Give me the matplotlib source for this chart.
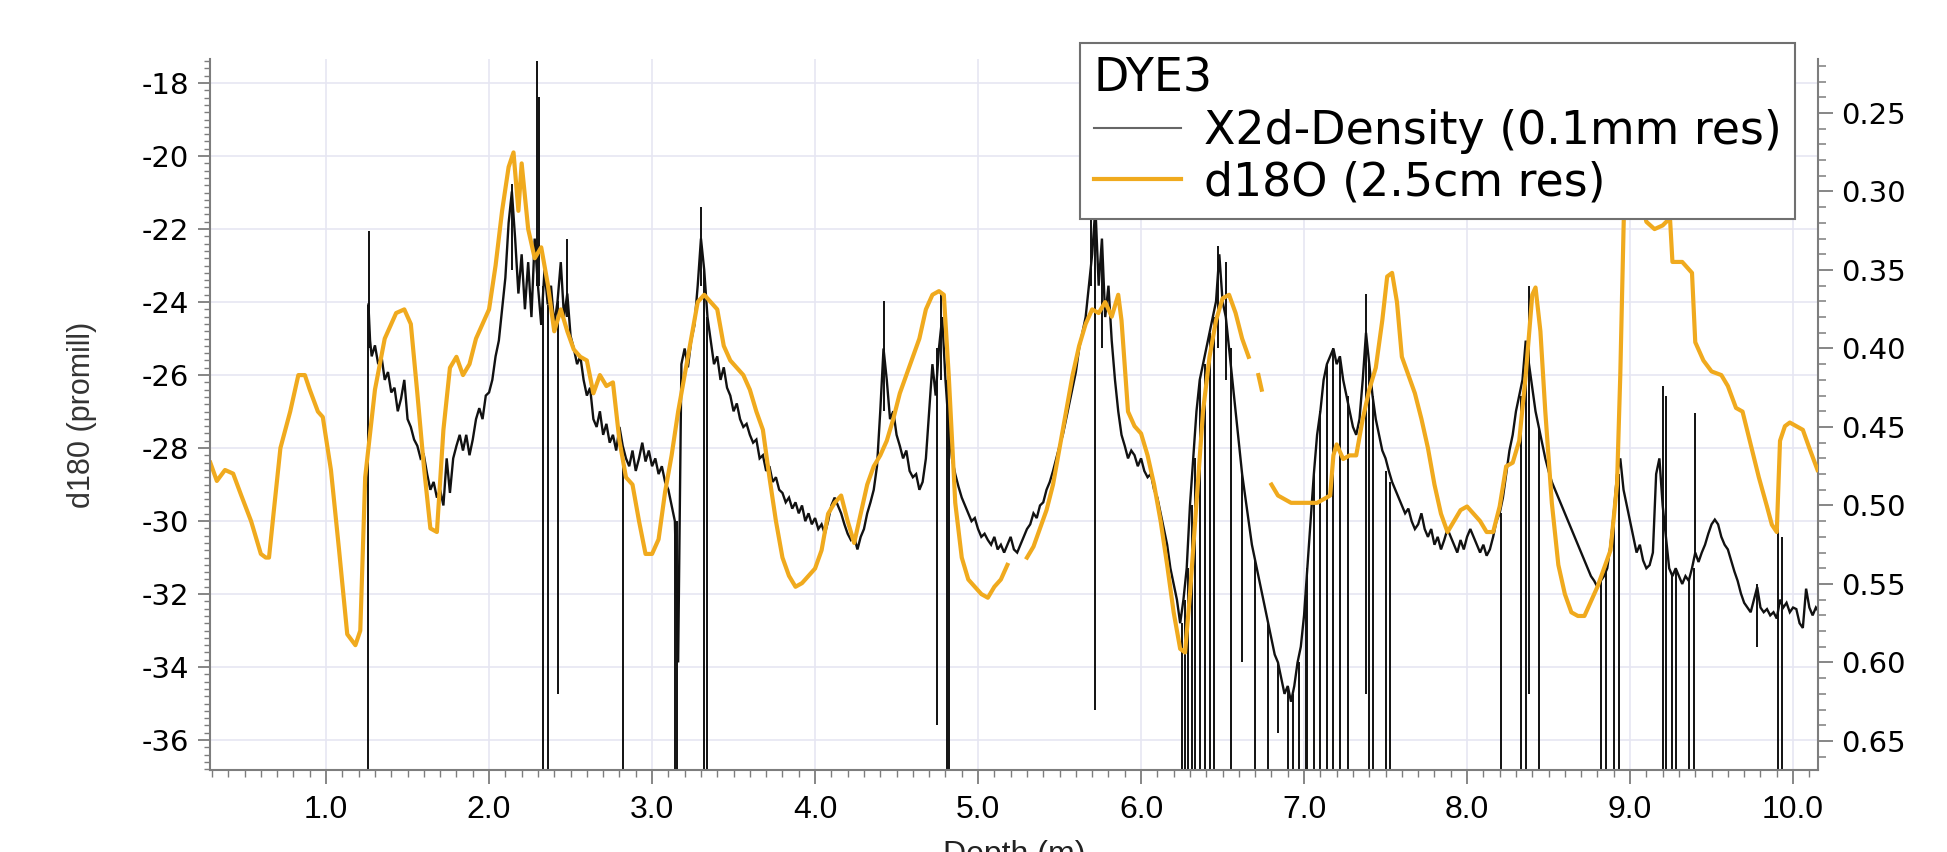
import numpy as np
import matplotlib
matplotlib.use("Agg")
import matplotlib.pyplot as plt
from matplotlib.ticker import MultipleLocator, FormatStrFormatter
from matplotlib.lines import Line2D

plt.rcParams['axes.unicode_minus'] = False

# ---------------- data ----------------
# d18O, 2.5 cm resolution (left axis, promill); NaN = gap in the line
d18o_depth = [0.29, 0.33, 0.38, 0.43, 0.48, 0.54, 0.60, 0.63, 0.65, 0.68, 0.72, 0.78, 0.83, 0.87,
              0.90, 0.95, 0.98, 1.03, 1.08, 1.13, 1.18, 1.21, 1.24, 1.30, 1.36, 1.43, 1.48, 1.52,
              1.56, 1.60, 1.64, 1.68, 1.72, 1.76, 1.80, 1.84, 1.88, 1.92, 1.96, 2.00, 2.04, 2.08,
              2.12, 2.15, 2.18, 2.20, 2.24, 2.28, 2.32, 2.36, 2.40, 2.44, 2.48, 2.52, 2.56, 2.60,
              2.64, 2.68, 2.72, 2.76, 2.80, 2.84, 2.88, 2.92, 2.96, 3.00, 3.04, 3.08, 3.12, 3.16,
              3.20, 3.24, 3.28, 3.32, 3.36, 3.40, 3.44, 3.48, 3.52, 3.56, 3.60, 3.64, 3.68, 3.72,
              3.76, 3.80, 3.84, 3.88, 3.92, 3.96, 4.00, 4.04, 4.08, 4.12, 4.16, 4.20, 4.24, 4.28,
              4.32, 4.36, 4.40, 4.44, 4.48, 4.52, 4.56, 4.60, 4.64, 4.68, 4.72, 4.76, 4.79, 4.82,
              4.86, 4.90, 4.94, 4.98, 5.02, 5.06, 5.10, 5.14, 5.18, 5.24, 5.30, 5.34, 5.38, 5.42,
              5.46, 5.50, 5.54, 5.58, 5.62, 5.66, 5.70, 5.74, 5.78, 5.82, 5.86, 5.88, 5.92, 5.96,
              6.00, 6.04, 6.08, 6.12, 6.16, 6.20, 6.24, 6.27, 6.30, 6.34, 6.38, 6.42, 6.46, 6.50,
              6.54, 6.58, 6.62, 6.66, 6.69, 6.72, 6.74, 6.76, 6.80, 6.84, 6.88, 6.92, 6.96, 7.00,
              7.04, 7.08, 7.12, 7.16, 7.18, 7.20, 7.24, 7.28, 7.32, 7.36, 7.40, 7.44, 7.48, 7.51,
              7.54, 7.57, 7.60, 7.64, 7.68, 7.72, 7.76, 7.80, 7.84, 7.88, 7.92, 7.96, 8.00, 8.04,
              8.08, 8.12, 8.16, 8.20, 8.24, 8.28, 8.32, 8.36, 8.40, 8.42, 8.45, 8.48, 8.52, 8.56,
              8.60, 8.64, 8.68, 8.72, 8.76, 8.80, 8.84, 8.88, 8.92, 8.94, 8.96, 8.98, 9.00, 9.04,
              9.06, 9.10, 9.15, 9.20, 9.245, 9.26, 9.32, 9.38, 9.40, 9.45, 9.50, 9.56, 9.60, 9.65,
              9.69, 9.74, 9.79, 9.84, 9.87, 9.90, 9.92, 9.95, 9.98, 10.02, 10.06, 10.10, 10.15]
d18o_value = [-28.4, -28.9, -28.6, -28.7, -29.3, -30.0, -30.9, -31.0, -31.0, -29.7, -28.0, -27.0, -26.0, -26.0,
              -26.4, -27.0, -27.15, -28.6, -30.8, -33.1, -33.4, -33.0, -28.8, -26.4, -25.0, -24.3, -24.2, -24.6,
              -26.5, -28.5, -30.2, -30.3, -27.5, -25.8, -25.5, -26.0, -25.7, -25.0, -24.6, -24.2, -23.0, -21.5,
              -20.3, -19.9, -21.5, -20.2, -22.0, -22.8, -22.5, -23.5, -24.8, -24.2, -24.8, -25.3, -25.5, -25.6,
              -26.5, -26.0, -26.3, -26.2, -27.8, -28.8, -29.0, -30.0, -30.9, -30.9, -30.5, -29.2, -28.2, -27.0,
              -26.0, -25.0, -24.0, -23.8, -24.0, -24.2, -25.2, -25.6, -25.8, -26.0, -26.4, -27.0, -27.5, -28.8,
              -30.0, -31.0, -31.5, -31.8, -31.7, -31.5, -31.3, -30.8, -29.8, -29.5, -29.3, -30.0, -30.6, -29.8,
              -29.0, -28.5, -28.2, -27.8, -27.2, -26.5, -26.0, -25.5, -25.0, -24.2, -23.8, -23.7, -23.8, -26.0,
              -29.5, -31.0, -31.6, -31.8, -32.0, -32.1, -31.8, -31.6, -31.2, np.nan, -31.0, -30.7, -30.2, -29.7,
              -29.0, -28.0, -27.0, -26.0, -25.2, -24.6, -24.2, -24.3, -24.0, -24.4, -23.8, -24.5, -27.0, -27.4,
              -27.6, -28.2, -29.0, -30.0, -31.2, -32.5, -33.5, -33.6, -32.0, -29.5, -27.0, -25.5, -24.5, -23.9,
              -23.8, -24.3, -25.0, -25.5, np.nan, -26.0, -26.4, np.nan, -29.0, -29.3, -29.4, -29.5, -29.5, -29.5,
              -29.5, -29.5, -29.4, -29.3, -28.2, -27.9, -28.3, -28.2, -28.2, -27.2, -26.4, -25.8, -24.5, -23.3,
              -23.2, -24.0, -25.5, -26.0, -26.5, -27.2, -28.0, -29.0, -29.8, -30.3, -30.0, -29.7, -29.6, -29.8,
              -30.0, -30.3, -30.3, -29.6, -28.5, -28.4, -27.8, -26.0, -23.8, -23.6, -24.8, -27.0, -29.5, -31.2,
              -32.0, -32.5, -32.6, -32.6, -32.2, -31.8, -31.3, -30.8, -29.0, -26.0, -22.0, -18.5, -16.5, -16.5,
              -21.0, -21.8, -22.0, -21.9, -21.7, -22.9, -22.9, -23.2, -25.1, -25.6, -25.9, -26.0, -26.3, -26.9,
              -27.0, -27.9, -28.8, -29.6, -30.1, -30.3, -27.8, -27.4, -27.3, -27.4, -27.5, -28.0, -28.6]

# X2d density, 0.1 mm resolution (right axis) - traced envelope of the trace
dens_depth = [1.26, 1.27, 1.28, 1.30, 1.32, 1.34, 1.36, 1.38, 1.40, 1.42, 1.44, 1.46, 1.48, 1.50,
              1.52, 1.54, 1.56, 1.58, 1.60, 1.62, 1.64, 1.66, 1.68, 1.70, 1.72, 1.74, 1.76, 1.78,
              1.80, 1.82, 1.84, 1.86, 1.88, 1.90, 1.92, 1.94, 1.96, 1.98, 2.00, 2.02, 2.04, 2.06,
              2.08, 2.10, 2.12, 2.14, 2.16, 2.18, 2.20, 2.22, 2.24, 2.26, 2.28, 2.30, 2.32, 2.34,
              2.36, 2.38, 2.40, 2.42, 2.44, 2.46, 2.48, 2.50, 2.52, 2.54, 2.56, 2.58, 2.60, 2.62,
              2.64, 2.66, 2.68, 2.70, 2.72, 2.74, 2.76, 2.78, 2.80, 2.82, 2.84, 2.86, 2.88, 2.90,
              2.92, 2.94, 2.96, 2.98, 3.00, 3.02, 3.04, 3.06, 3.08, 3.10, 3.12, 3.14, 3.16, 3.18,
              3.20, 3.22, 3.24, 3.26, 3.28, 3.30, 3.32, 3.34, 3.36, 3.38, 3.40, 3.42, 3.44, 3.46,
              3.48, 3.50, 3.52, 3.54, 3.56, 3.58, 3.60, 3.62, 3.64, 3.66, 3.68, 3.70, 3.72, 3.74,
              3.76, 3.78, 3.80, 3.82, 3.84, 3.86, 3.88, 3.90, 3.92, 3.94, 3.96, 3.98, 4.00, 4.02,
              4.04, 4.06, 4.08, 4.10, 4.12, 4.14, 4.16, 4.18, 4.20, 4.22, 4.24, 4.26, 4.28, 4.30,
              4.32, 4.34, 4.36, 4.38, 4.40, 4.42, 4.44, 4.46, 4.48, 4.50, 4.52, 4.54, 4.56, 4.58,
              4.60, 4.62, 4.64, 4.66, 4.68, 4.70, 4.72, 4.74, 4.76, 4.78, 4.80, 4.82, 4.84, 4.86,
              4.88, 4.90, 4.92, 4.94, 4.96, 4.98, 5.00, 5.02, 5.04, 5.06, 5.08, 5.10, 5.12, 5.14,
              5.16, 5.18, 5.20, 5.22, 5.24, 5.26, 5.28, 5.30, 5.32, 5.34, 5.36, 5.38, 5.40, 5.42,
              5.44, 5.46, 5.48, 5.50, 5.52, 5.54, 5.56, 5.58, 5.60, 5.62, 5.64, 5.66, 5.68, 5.70,
              5.72, 5.74, 5.76, 5.78, 5.80, 5.82, 5.84, 5.86, 5.88, 5.90, 5.92, 5.94, 5.96, 5.98,
              6.00, 6.02, 6.04, 6.06, 6.08, 6.10, 6.12, 6.14, 6.16, 6.18, 6.20, 6.22, 6.24, 6.26,
              6.28, 6.30, 6.32, 6.34, 6.36, 6.38, 6.40, 6.42, 6.44, 6.46, 6.48, 6.50, 6.52, 6.54,
              6.56, 6.58, 6.60, 6.62, 6.64, 6.66, 6.68, 6.70, 6.72, 6.74, 6.76, 6.78, 6.80, 6.82,
              6.84, 6.86, 6.88, 6.90, 6.92, 6.94, 6.96, 6.98, 7.00, 7.02, 7.04, 7.06, 7.08, 7.10,
              7.12, 7.14, 7.16, 7.18, 7.20, 7.22, 7.24, 7.26, 7.28, 7.30, 7.32, 7.34, 7.36, 7.38,
              7.40, 7.42, 7.44, 7.46, 7.48, 7.50, 7.52, 7.54, 7.56, 7.58, 7.60, 7.62, 7.64, 7.66,
              7.68, 7.70, 7.72, 7.74, 7.76, 7.78, 7.80, 7.82, 7.84, 7.86, 7.88, 7.90, 7.92, 7.94,
              7.96, 7.98, 8.00, 8.02, 8.04, 8.06, 8.08, 8.10, 8.12, 8.14, 8.16, 8.18, 8.20, 8.22,
              8.24, 8.26, 8.28, 8.30, 8.32, 8.34, 8.36, 8.38, 8.40, 8.42, 8.44, 8.46, 8.48, 8.50,
              8.52, 8.54, 8.56, 8.58, 8.60, 8.62, 8.64, 8.66, 8.68, 8.70, 8.72, 8.74, 8.76, 8.78,
              8.80, 8.82, 8.84, 8.86, 8.88, 8.90, 8.92, 8.94, 8.96, 8.98, 9.00, 9.02, 9.04, 9.06,
              9.08, 9.10, 9.12, 9.14, 9.16, 9.18, 9.20, 9.22, 9.24, 9.26, 9.28, 9.30, 9.32, 9.34,
              9.36, 9.38, 9.40, 9.42, 9.44, 9.46, 9.48, 9.50, 9.52, 9.54, 9.56, 9.58, 9.60, 9.62,
              9.64, 9.66, 9.68, 9.70, 9.72, 9.74, 9.76, 9.78, 9.80, 9.82, 9.84, 9.86, 9.88, 9.90,
              9.92, 9.94, 9.96, 9.98, 10.00, 10.02, 10.04, 10.06, 10.08, 10.10, 10.12, 10.14, 10.16]
dens_value = [0.372, 0.395, 0.405, 0.398, 0.410, 0.405, 0.420, 0.415, 0.428, 0.425, 0.440, 0.432, 0.420, 0.445,
              0.450, 0.458, 0.462, 0.470, 0.468, 0.480, 0.490, 0.485, 0.495, 0.490, 0.500, 0.470, 0.492, 0.470,
              0.462, 0.455, 0.465, 0.455, 0.468, 0.458, 0.445, 0.438, 0.445, 0.430, 0.428, 0.420, 0.405, 0.395,
              0.375, 0.355, 0.320, 0.300, 0.330, 0.365, 0.340, 0.375, 0.345, 0.380, 0.330, 0.360, 0.385, 0.350,
              0.372, 0.360, 0.385, 0.370, 0.345, 0.380, 0.365, 0.392, 0.400, 0.410, 0.405, 0.420, 0.430, 0.425,
              0.445, 0.450, 0.440, 0.455, 0.448, 0.460, 0.455, 0.465, 0.450, 0.462, 0.470, 0.475, 0.465, 0.478,
              0.470, 0.460, 0.472, 0.465, 0.475, 0.470, 0.480, 0.475, 0.485, 0.490, 0.500, 0.510, 0.600, 0.410,
              0.400, 0.412, 0.395, 0.385, 0.360, 0.330, 0.350, 0.380, 0.395, 0.410, 0.405, 0.420, 0.412, 0.425,
              0.430, 0.440, 0.435, 0.445, 0.450, 0.448, 0.455, 0.460, 0.458, 0.470, 0.468, 0.478, 0.475, 0.485,
              0.482, 0.490, 0.492, 0.498, 0.495, 0.502, 0.498, 0.505, 0.500, 0.510, 0.505, 0.512, 0.508, 0.515,
              0.512, 0.518, 0.510, 0.500, 0.495, 0.500, 0.505, 0.512, 0.518, 0.522, 0.520, 0.528, 0.520, 0.515,
              0.505, 0.498, 0.490, 0.475, 0.440, 0.400, 0.420, 0.445, 0.440, 0.455, 0.462, 0.470, 0.465, 0.478,
              0.482, 0.480, 0.490, 0.485, 0.470, 0.440, 0.410, 0.430, 0.400, 0.380, 0.420, 0.450, 0.470, 0.480,
              0.488, 0.495, 0.500, 0.505, 0.510, 0.508, 0.515, 0.520, 0.518, 0.522, 0.525, 0.520, 0.528, 0.525,
              0.530, 0.525, 0.520, 0.528, 0.530, 0.525, 0.520, 0.515, 0.512, 0.505, 0.508, 0.500, 0.498, 0.490,
              0.485, 0.478, 0.470, 0.462, 0.455, 0.445, 0.435, 0.425, 0.415, 0.400, 0.390, 0.380, 0.360, 0.340,
              0.310, 0.360, 0.330, 0.380, 0.360, 0.395, 0.420, 0.440, 0.455, 0.462, 0.470, 0.465, 0.468, 0.475,
              0.470, 0.478, 0.482, 0.480, 0.490, 0.495, 0.505, 0.515, 0.525, 0.540, 0.550, 0.560, 0.575, 0.560,
              0.540, 0.500, 0.470, 0.440, 0.420, 0.410, 0.400, 0.390, 0.380, 0.370, 0.340, 0.370, 0.380, 0.400,
              0.420, 0.440, 0.460, 0.480, 0.495, 0.510, 0.525, 0.535, 0.545, 0.555, 0.565, 0.575, 0.585, 0.595,
              0.600, 0.610, 0.620, 0.615, 0.625, 0.615, 0.600, 0.590, 0.570, 0.540, 0.510, 0.480, 0.455, 0.440,
              0.420, 0.410, 0.405, 0.400, 0.410, 0.405, 0.420, 0.430, 0.440, 0.450, 0.455, 0.445, 0.420, 0.390,
              0.410, 0.430, 0.445, 0.455, 0.465, 0.470, 0.478, 0.485, 0.490, 0.495, 0.500, 0.505, 0.502, 0.510,
              0.515, 0.512, 0.505, 0.515, 0.520, 0.515, 0.525, 0.520, 0.528, 0.522, 0.515, 0.520, 0.525, 0.530,
              0.522, 0.528, 0.520, 0.515, 0.520, 0.525, 0.530, 0.525, 0.532, 0.528, 0.520, 0.510, 0.505, 0.495,
              0.480, 0.465, 0.455, 0.440, 0.430, 0.420, 0.395, 0.410, 0.425, 0.440, 0.450, 0.460, 0.470, 0.478,
              0.485, 0.490, 0.495, 0.500, 0.505, 0.510, 0.515, 0.520, 0.525, 0.530, 0.535, 0.540, 0.545, 0.548,
              0.552, 0.548, 0.545, 0.540, 0.525, 0.505, 0.480, 0.470, 0.490, 0.500, 0.510, 0.520, 0.530, 0.525,
              0.535, 0.540, 0.538, 0.530, 0.480, 0.470, 0.500, 0.520, 0.540, 0.545, 0.540, 0.545, 0.550, 0.545,
              0.548, 0.540, 0.530, 0.536, 0.530, 0.525, 0.518, 0.512, 0.509, 0.512, 0.520, 0.525, 0.528, 0.535,
              0.542, 0.548, 0.556, 0.562, 0.565, 0.568, 0.560, 0.552, 0.565, 0.568, 0.566, 0.570, 0.568, 0.572,
              0.560, 0.565, 0.562, 0.568, 0.565, 0.566, 0.575, 0.578, 0.553, 0.565, 0.570, 0.565, 0.568]

# thin spikes of the density trace: depth, upper end, lower end (density units)
spike_depth = [1.258, 1.265, 2.14, 2.295, 2.305, 2.33, 2.36, 2.42, 2.48, 2.82, 3.14, 3.155,
               3.30, 3.32, 3.335, 4.42, 4.75, 4.77, 4.81, 4.82, 5.69, 5.72, 5.76,
               6.25, 6.27, 6.29, 6.31, 6.33, 6.36, 6.39, 6.42, 6.45, 6.47, 6.52, 6.55,
               6.62, 6.70, 6.78, 6.84, 6.90, 6.93, 6.97, 7.01, 7.02, 7.06, 7.10, 7.14,
               7.18, 7.22, 7.27, 7.38, 7.40, 7.42, 7.50, 7.53, 8.21, 8.33, 8.36, 8.38,
               8.44, 8.82, 8.85, 8.90, 8.93, 9.20, 9.22, 9.26, 9.28, 9.36, 9.39, 9.40,
               9.78, 9.91, 9.93]
spike_top = [0.372, 0.325, 0.295, 0.217, 0.240, 0.360, 0.372, 0.370, 0.330, 0.462, 0.510, 0.510,
             0.310, 0.350, 0.380, 0.370, 0.400, 0.365, 0.420, 0.430, 0.300, 0.310, 0.330,
             0.575, 0.560, 0.540, 0.500, 0.470, 0.420, 0.410, 0.390, 0.380, 0.335, 0.345, 0.400,
             0.480, 0.535, 0.575, 0.600, 0.615, 0.620, 0.600, 0.560, 0.540, 0.480, 0.440, 0.410,
             0.400, 0.405, 0.430, 0.365, 0.410, 0.430, 0.478, 0.485, 0.505, 0.430, 0.395, 0.360,
             0.450, 0.548, 0.540, 0.505, 0.480, 0.424, 0.430, 0.545, 0.540, 0.548, 0.540, 0.441,
             0.550, 0.512, 0.520]
spike_bottom = [0.680, 0.400, 0.350, 0.360, 0.360, 0.680, 0.680, 0.620, 0.380, 0.680, 0.680, 0.680,
                0.360, 0.680, 0.680, 0.440, 0.640, 0.420, 0.680, 0.680, 0.360, 0.630, 0.400,
                0.680, 0.680, 0.680, 0.680, 0.680, 0.680, 0.680, 0.680, 0.680, 0.400, 0.420, 0.680,
                0.600, 0.680, 0.680, 0.645, 0.680, 0.680, 0.680, 0.680, 0.680, 0.680, 0.680, 0.680,
                0.680, 0.680, 0.680, 0.620, 0.680, 0.680, 0.680, 0.680, 0.680, 0.680, 0.680, 0.620,
                0.680, 0.680, 0.680, 0.680, 0.680, 0.680, 0.680, 0.680, 0.680, 0.680, 0.680, 0.530,
                0.590, 0.680, 0.680]

x_ticks_major = 1.0
left_ticks_major = 2.0
right_ticks_major = 0.05
legend_title = "DYE3"
label_density = "X2d-Density (0.1mm res)"
label_d18o = "d18O (2.5cm res)"

# ---------------- figure ----------------
W, H = 1947, 852
fig = plt.figure(figsize=(W / 100, H / 100), dpi=100)
rect = [210 / W, 1 - 770 / H, (1818 - 210) / W, (770 - 59) / H]

ORANGE = "#F0AA1E"
GRID = "#E6E6F2"
SPINE = "#7d7d7d"
NARROW = ['Liberation Sans Narrow', 'DejaVu Sans Condensed', 'Liberation Sans', 'DejaVu Sans']

# background axes for the grid
axg = fig.add_axes(rect, zorder=0)
# density axis (right)
ax2 = fig.add_axes(rect, zorder=1, sharex=axg)
# d18O axis (left), on top
ax1 = fig.add_axes(rect, zorder=2, sharex=axg)

xlim = (0.288, 10.153)
ylim_left = (-36.82, -17.34)
ylim_right = (0.6685, 0.2156)

axg.set_xlim(*xlim)
axg.set_ylim(*ylim_left)
axg.xaxis.set_major_locator(MultipleLocator(x_ticks_major))
axg.yaxis.set_major_locator(MultipleLocator(left_ticks_major))
axg.grid(True, color=GRID, lw=1.2)
axg.tick_params(which='both', length=0, labelleft=False, labelbottom=False)
for s in axg.spines.values():
    s.set_visible(False)

# density trace
ax2.patch.set_visible(False)
ax2.plot(dens_depth, dens_value, color="#111111", lw=1.7, solid_joinstyle='miter')
ax2.vlines(spike_depth, spike_top, spike_bottom, color="#111111", lw=1.4)
ax2.set_ylim(*ylim_right)
ax2.yaxis.tick_right()
ax2.yaxis.set_major_locator(MultipleLocator(right_ticks_major))
ax2.yaxis.set_minor_locator(MultipleLocator(0.01))
ax2.yaxis.set_major_formatter(FormatStrFormatter('%.2f'))
ax2.tick_params(axis='y', which='major', direction='out', length=11, width=1.3, color=SPINE,
                labelsize=21, pad=6, right=True, left=False, labelright=True, labelleft=False)
ax2.tick_params(axis='y', which='minor', direction='out', length=5.5, width=1.1, color=SPINE,
                right=True, left=False)
ax2.tick_params(axis='x', which='both', bottom=False, labelbottom=False)
for k in ('top', 'left', 'bottom'):
    ax2.spines[k].set_visible(False)
ax2.spines['right'].set_color(SPINE)
ax2.spines['right'].set_linewidth(1.5)

# d18O trace
ax1.patch.set_visible(False)
ax1.plot(d18o_depth, d18o_value, color=ORANGE, lw=3.0, solid_joinstyle='round')
ax1.set_xlim(*xlim)
ax1.set_ylim(*ylim_left)
ax1.xaxis.set_major_locator(MultipleLocator(x_ticks_major))
ax1.xaxis.set_minor_locator(MultipleLocator(0.1))
ax1.xaxis.set_major_formatter(FormatStrFormatter('%.1f'))
ax1.yaxis.set_major_locator(MultipleLocator(left_ticks_major))
ax1.yaxis.set_minor_locator(MultipleLocator(0.2))
ax1.yaxis.set_major_formatter(FormatStrFormatter('%d'))
ax1.tick_params(axis='y', which='major', direction='out', length=9, width=1.3, color=SPINE,
                labelsize=21, pad=6)
ax1.tick_params(axis='y', which='minor', direction='out', length=4.5, width=1.0, color=SPINE)
ax1.tick_params(axis='x', which='major', direction='out', length=10, width=1.3, color=SPINE,
                labelsize=23, pad=8)
ax1.tick_params(axis='x', which='minor', direction='out', length=5, width=1.0, color=SPINE)
for lab in ax1.get_xticklabels():
    lab.set_family(NARROW)
for k in ('top', 'right'):
    ax1.spines[k].set_visible(False)
for k in ('left', 'bottom'):
    ax1.spines[k].set_color(SPINE)
    ax1.spines[k].set_linewidth(1.5)

ax1.set_ylabel("d180 (promill)", fontsize=22, color="#333333", family=NARROW, labelpad=32)

fig.text((210 + 1818) / 2 / W, 12 / H, "Depth (m)", ha='center', va='top', fontsize=23,
         family=NARROW, color="#222222")

handles = [Line2D([], [], color="#666666", lw=1.5), Line2D([], [], color=ORANGE, lw=3)]
leg = ax1.legend(handles, [label_density, label_d18o], title=legend_title,
                 loc='upper right', bbox_to_anchor=(0.9857, 1.0225), borderaxespad=0,
                 fontsize=33, title_fontsize=33, alignment='left', fancybox=False,
                 framealpha=1, edgecolor="#707070", labelspacing=0.15, borderpad=0.3,
                 handlelength=1.9, handletextpad=0.5)
leg.get_frame().set_linewidth(1.5)

fig.savefig("out.png", dpi=100)
